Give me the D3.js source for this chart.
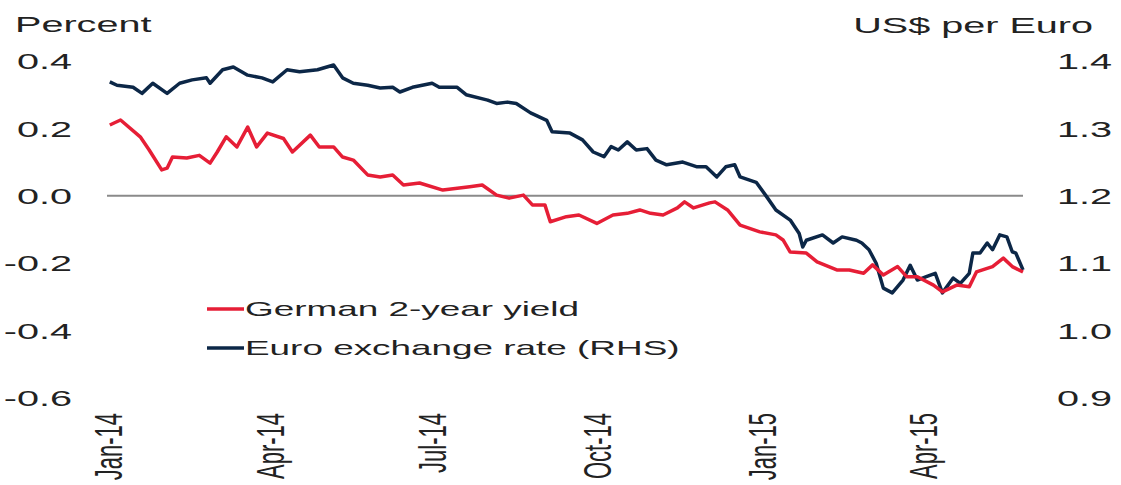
<!DOCTYPE html>
<html>
<head>
<meta charset="utf-8">
<script src="https://cdn.jsdelivr.net/npm/d3@7"></script>
<style>
  body { margin: 0; background: #fff; }
  svg text { font-family: "Liberation Sans", Arial, sans-serif; fill: #222; }
</style>
</head>
<body>
<div id="chart-area"></div>
<script>
// German 2-year yield (percent)
const yieldDates = ["2014-01-02","2014-01-08","2014-01-19","2014-01-24","2014-01-31","2014-02-03","2014-02-06","2014-02-14","2014-02-21","2014-02-27",
  "2014-03-03","2014-03-08","2014-03-14","2014-03-20","2014-03-25","2014-03-31","2014-04-09","2014-04-14","2014-04-24","2014-04-29",
  "2014-05-07","2014-05-12","2014-05-18","2014-05-26","2014-06-02","2014-06-09","2014-06-15","2014-06-24","2014-07-07","2014-07-22",
  "2014-07-29","2014-08-06","2014-08-13","2014-08-21","2014-08-26","2014-09-02","2014-09-05","2014-09-14","2014-09-21","2014-10-01",
  "2014-10-10","2014-10-18","2014-10-25","2014-10-31","2014-11-07","2014-11-15","2014-11-19","2014-11-24","2014-12-03","2014-12-06",
  "2014-12-13","2014-12-20","2014-12-31","2015-01-09","2015-01-13","2015-01-17","2015-01-26","2015-02-01","2015-02-12","2015-02-19",
  "2015-02-27","2015-03-04","2015-03-10","2015-03-18","2015-03-23","2015-03-29","2015-04-07","2015-04-12","2015-04-20","2015-04-27",
  "2015-05-01","2015-05-10","2015-05-16","2015-05-21","2015-05-27"]
const yieldValues = [0.21,0.225,0.175,0.136,0.077,0.082,0.115,0.112,0.12,0.097,
  0.13,0.175,0.145,0.204,0.145,0.186,0.17,0.13,0.18,0.145,
  0.145,0.115,0.106,0.062,0.056,0.062,0.032,0.038,0.017,0.027,
  0.032,0.002,-0.007,0.002,-0.027,-0.027,-0.077,-0.062,-0.057,-0.082,
  -0.057,-0.052,-0.042,-0.052,-0.057,-0.036,-0.018,-0.036,-0.021,-0.018,
  -0.042,-0.087,-0.107,-0.116,-0.131,-0.167,-0.17,-0.196,-0.22,-0.22,
  -0.23,-0.205,-0.235,-0.21,-0.24,-0.24,-0.265,-0.285,-0.265,-0.27,
  -0.226,-0.21,-0.185,-0.21,-0.226]

// Euro exchange rate (US$ per Euro, right-hand scale)
const eurDates = ["2014-01-02","2014-01-06","2014-01-15","2014-01-20","2014-01-26","2014-02-03","2014-02-10","2014-02-17","2014-02-25","2014-02-27",
  "2014-03-06","2014-03-12","2014-03-20","2014-03-28","2014-04-03","2014-04-11","2014-04-18","2014-04-28","2014-05-07","2014-05-12",
  "2014-05-18","2014-05-26","2014-06-02","2014-06-09","2014-06-13","2014-06-20","2014-07-01","2014-07-05","2014-07-15","2014-07-20",
  "2014-08-01","2014-08-06","2014-08-12","2014-08-17","2014-08-25","2014-09-03","2014-09-06","2014-09-16","2014-09-23","2014-09-29",
  "2014-10-05","2014-10-09","2014-10-13","2014-10-18","2014-10-23","2014-10-29","2014-11-03","2014-11-09","2014-11-18","2014-11-26",
  "2014-12-01","2014-12-07","2014-12-12","2014-12-17","2014-12-20","2014-12-29","2015-01-04","2015-01-09","2015-01-17","2015-01-22",
  "2015-01-24","2015-01-26","2015-02-04","2015-02-10","2015-02-15","2015-02-23","2015-02-26","2015-03-02","2015-03-06","2015-03-10",
  "2015-03-15","2015-03-21","2015-03-25","2015-03-29","2015-04-03","2015-04-08","2015-04-12","2015-04-18","2015-04-22","2015-04-27",
  "2015-04-29","2015-05-03","2015-05-07","2015-05-10","2015-05-14","2015-05-18","2015-05-21","2015-05-23","2015-05-27"]
const eurValues = [1.369,1.364,1.361,1.352,1.367,1.352,1.367,1.372,1.375,1.367,
  1.387,1.391,1.379,1.375,1.369,1.387,1.384,1.387,1.394,1.375,
  1.367,1.364,1.36,1.361,1.354,1.361,1.367,1.361,1.361,1.35,
  1.342,1.337,1.339,1.337,1.323,1.312,1.295,1.293,1.283,1.265,
  1.258,1.273,1.268,1.28,1.268,1.27,1.253,1.246,1.25,1.243,
  1.243,1.228,1.243,1.246,1.228,1.22,1.198,1.179,1.164,1.144,
  1.124,1.134,1.142,1.13,1.139,1.134,1.13,1.12,1.1,1.063,
  1.056,1.075,1.097,1.075,1.08,1.085,1.056,1.078,1.07,1.085,
  1.115,1.115,1.13,1.12,1.142,1.139,1.117,1.115,1.09]

const leftTicks = [0.4, 0.2, 0.0, -0.2, -0.4, -0.6]
const leftTickLabels = ["0.4", "0.2", "0.0", "-0.2", "-0.4", "-0.6"]
const rightTicks = [1.4, 1.3, 1.2, 1.1, 1.0, 0.9]
const rightTickLabels = ["1.4", "1.3", "1.2", "1.1", "1.0", "0.9"]
const monthTicks = ["2014-01-01", "2014-04-01", "2014-07-01", "2014-10-01", "2015-01-01", "2015-04-01"]
const monthLabels = ["Jan-14", "Apr-14", "Jul-14", "Oct-14", "Jan-15", "Apr-15"]
const seriesNames = ["German 2-year yield", "Euro exchange rate (RHS)"]

const parseDate = d3.timeParse("%Y-%m-%d")
const yieldData = yieldDates.map((d, i) => ({ date: parseDate(d), value: yieldValues[i] }))
const eurData = eurDates.map((d, i) => ({ date: parseDate(d), value: eurValues[i] }))

const width = 1121
const height = 485
const SX = 1.8   // the original picture is stretched sideways, text too
const red = "#e61e36"
const navy = "#0c2747"

const svg = d3.select("#chart-area")
  .append("svg")
  .attr("width", width)
  .attr("height", height)

const xScale = d3.scaleTime()
  .domain([parseDate("2014-01-01"), parseDate("2015-05-27")])
  .range([108, 1023])

const yLeft = d3.scaleLinear().domain([-0.6, 0.4]).range([398, 61])
const yRight = d3.scaleLinear().domain([0.9, 1.4]).range([398, 61])

// stretched text helper
function stretchText(sel, x, y, extra = "") {
  sel.attr("x", 0).attr("y", 0)
    .attr("transform", `translate(${x},${y}) scale(${SX},1) ${extra}`)
}

// zero line
svg.append("line")
  .attr("x1", xScale.range()[0] - 1)
  .attr("x2", xScale.range()[1])
  .attr("y1", yLeft(0))
  .attr("y2", yLeft(0))
  .attr("stroke", "#8a8a8a")
  .attr("stroke-width", 2)

// left axis
const leftAxis = svg.append("g")
  .attr("transform", "translate(72,0)")
  .call(d3.axisLeft(yLeft).tickValues(leftTicks).tickSize(0)
    .tickFormat((d, i) => leftTickLabels[i]))
leftAxis.select(".domain").remove()
leftAxis.selectAll("text")
  .attr("font-size", 22)
  .attr("text-anchor", "end")
  .attr("dy", "0.35em")
  .each(function () { stretchText(d3.select(this), 0, 0) })

// right axis
const rightAxis = svg.append("g")
  .attr("transform", "translate(1112,0)")
  .call(d3.axisRight(yRight).tickValues(rightTicks).tickSize(0)
    .tickFormat((d, i) => rightTickLabels[i]))
rightAxis.select(".domain").remove()
rightAxis.selectAll("text")
  .attr("font-size", 22)
  .attr("text-anchor", "end")
  .attr("dy", "0.35em")
  .each(function () { stretchText(d3.select(this), 0, 0) })

// x axis, rotated month labels
const xAxis = svg.append("g")
  .attr("transform", "translate(0,413)")
  .call(d3.axisBottom(xScale).tickValues(monthTicks.map(parseDate)).tickSize(0)
    .tickFormat((d, i) => monthLabels[i]))
xAxis.select(".domain").remove()
xAxis.selectAll("text")
  .attr("font-size", 22)
  .attr("text-anchor", "end")
  .attr("dy", "0.35em")
  .each(function () { stretchText(d3.select(this), 0, 0, "rotate(-90)") })

// axis titles
svg.append("text").text("Percent")
  .attr("font-size", 22)
  .call(stretchText, 15, 32)
svg.append("text").text("US$ per Euro")
  .attr("font-size", 22)
  .attr("text-anchor", "end")
  .call(stretchText, 1093, 33)

// lines
const yieldLine = d3.line()
  .x(d => xScale(d.date))
  .y(d => yLeft(d.value))
const eurLine = d3.line()
  .x(d => xScale(d.date))
  .y(d => yRight(d.value))

svg.append("path")
  .attr("d", eurLine(eurData))
  .attr("fill", "none")
  .attr("stroke", navy)
  .attr("stroke-width", 3.5)
  .attr("stroke-linejoin", "round")

svg.append("path")
  .attr("d", yieldLine(yieldData))
  .attr("fill", "none")
  .attr("stroke", red)
  .attr("stroke-width", 3.5)
  .attr("stroke-linejoin", "round")

// legend
const legend = svg.append("g")
const legendColors = [red, navy]
seriesNames.forEach((name, i) => {
  const y = 309 + i * 39
  legend.append("line")
    .attr("x1", 207).attr("x2", 244)
    .attr("y1", y).attr("y2", y)
    .attr("stroke", legendColors[i])
    .attr("stroke-width", 3.5)
  legend.append("text").text(name)
    .attr("font-size", 20.5)
    .attr("dy", "0.36em")
    .call(stretchText, 245, y)
})
</script>
</body>
</html>
